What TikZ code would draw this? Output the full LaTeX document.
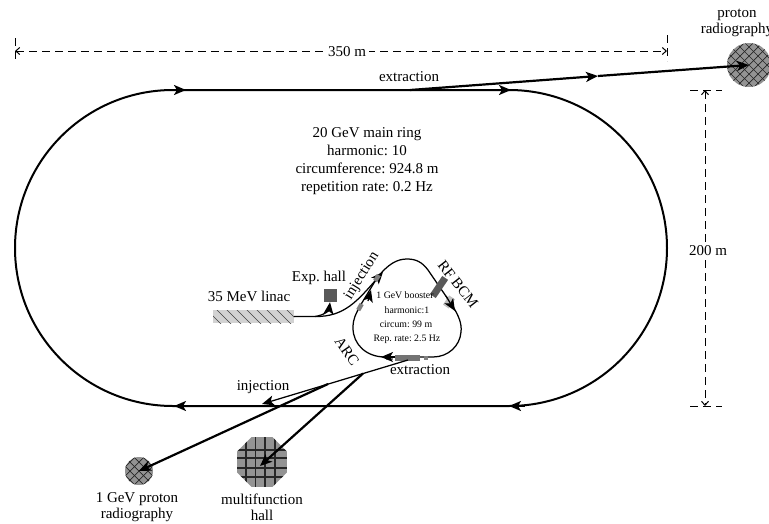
\documentclass[tikz,border=0pt]{standalone}
\usepackage{fontspec}
\setmainfont{Liberation Serif}
\usepackage{tikz}
\usetikzlibrary{positioning,arrows.meta,calc,shapes.geometric}
\frenchspacing
\begin{document}
\begin{tikzpicture}[x=1pt,y=-1pt,>={Stealth[inset=3pt,length=12pt,width=10pt]}, font=\fontsize{15}{17}\selectfont,
  ringline/.style={draw,line width=2pt},
  beam/.style={draw,line width=1.25pt},
  thick beam/.style={draw,line width=2.2pt},
  dim/.style={draw,line width=1pt,dash pattern=on 8pt off 5pt},
  tiny/.style={font=\fontsize{9.8}{12}\selectfont},
  cell/.style={draw=none,fill=black!#1,inner sep=0pt,minimum height=4.5pt,minimum width=7pt},
  xhatch/.style={fill=gray!85,inner sep=0pt,path picture={
    \foreach \i in {-72,-63,...,72}{
      \draw[black!85,line width=.7pt] ([shift={(\i-40,-40)}]path picture bounding box.center)--([shift={(\i+40,40)}]path picture bounding box.center);
      \draw[black!85,line width=.7pt] ([shift={(\i-40,40)}]path picture bounding box.center)--([shift={(\i+40,-40)}]path picture bounding box.center);}}}]
  \useasboundingbox (0,0) rectangle (769,523);
  % main ring
  \coordinate (tl) at (173,90); \coordinate (tr) at (509,90);
  \coordinate (bl) at (173,406); \coordinate (br) at (509,406);
  \draw[ringline] (tl) arc[start angle=90,end angle=270,radius=158pt] -- (br) arc[start angle=-90,end angle=90,radius=158pt] -- cycle;
  \foreach \a/\b in {170/186,495/511}{ \draw[ringline,->] (\a,90)--(\b,90); }
  \foreach \a/\b in {190/174,525/509}{ \draw[ringline,->] (\a,406)--(\b,406); }
  % dimensions
  \coordinate (w0) at (15,51); \coordinate (w1) at (667,51);
  \coordinate (h0) at (705,90); \coordinate (h1) at (705,406);
  \draw[dim] (15,38)--(15,63); \draw[dim] (667,35)--(667,61);
  \draw[dim] (690,90)--(722,90); \draw[dim] (690,406)--(722,406);
  \draw[dim,<->,>={Straight Barb[length=4pt,width=7pt]}] (w0)--(w1);
  \draw[dim,<->,>={Straight Barb[length=4pt,width=7pt]}] (h0)--(h1);
  \node[fill=white,inner sep=3pt] (wlab) at (347,52) {350 m};
  \node[fill=white,inner sep=3pt] (hlab) at (708,251) {200 m};
  % targets
  \node[xhatch,circle,minimum size=44pt] (pr) at (749,65) {};
  \node[xhatch,circle,minimum size=28pt] (gr) at (139,471) {};
  \node[regular polygon,regular polygon sides=8,minimum size=54pt,inner sep=0pt,fill=gray!85,path picture={
    \foreach \i in {-16,-6.5,3,13}{ \draw[black!85,line width=1.1pt] ([shift={(\i,-30)}]path picture bounding box.center)--([shift={(\i,30)}]path picture bounding box.center); }
    \foreach \i in {-12,-4,6,15}{ \draw[black!85,line width=1.1pt] ([shift={(-30,\i)}]path picture bounding box.center)--([shift={(30,\i)}]path picture bounding box.center); }}] (mh) at (262,462) {};
  \node[align=center] (prlab) at (737,22) {\strut proton\\[-1pt]\strut radiography};
  \node[align=center] (grlab) at (137,507) {1 GeV proton\\[-1pt]radiography};
  \node[align=center] (mhlab) at (262,507) {multifunction\\[-1pt]hall};
  % extraction to proton radiography
  \coordinate (ex0) at (410,90);
  \draw[thick beam,->] (ex0)--(598,76);
  \draw[thick beam,->] (598,76)--(pr.center);
  \node (exlab) at (409,77) {extraction};
  % linac and booster
  \node[draw=none,fill=gray!35,minimum width=81pt,minimum height=13pt,inner sep=0pt,path picture={
    \foreach \i in {-50,-40,...,50}{ \draw[black!75,line width=.6pt] ([shift={(\i-8,-8)}]path picture bounding box.center)--([shift={(\i+8,8)}]path picture bounding box.center); }}] (linac) at (253.5,316.5) {};
  \node (linaclab) at (249,296) {35 MeV linac};
  \node[fill=black!65,minimum size=13pt,inner sep=0pt] (hall) at (330,295.5) {};
  \node (halllab) at (319,278) {Exp. hall};
  \coordinate (fork) at (315,316.5);
  \coordinate (injb) at (383,272);
  \draw[beam,->] (linac.east) -- (fork) .. controls (345,317) and (358,300) .. (injb);
  \draw[beam,->] (fork) .. controls (325,315) and (329,310) .. (hall.south);
  \draw[beam] (377,278) .. controls (388,264) and (397,259) .. (407,259) .. controls (416,259) and (422,262) .. (428,270) -- (452,305) .. controls (459,316) and (462,324) .. (461,332) .. controls (460,346) and (448,357) .. (433,357) -- (385,357) .. controls (366,357) and (353,344) .. (353,328) .. controls (353,318) and (356,314) .. (360,306) -- cycle;
  \draw[beam,->] (368,301)--(371,290);
  \node[cell=65,rotate=56,minimum width=22pt,minimum height=7pt] (rf) at (439,287) {};
  \node[cell=25,rotate=56,minimum width=11pt,minimum height=7pt] (bcm) at (449,302) {};
  \draw[beam,->] (446,296)--(455,311);
  \node[cell=55,minimum width=25pt,minimum height=6pt] (kick) at (407,358) {};
  \node[cell=50,minimum width=3.5pt] (q1) at (426,358) {};
  \node[cell=50,minimum width=7pt] (q2) at (389,358) {};
  \draw[beam,->] (395,357)--(381,357);
  \node[cell=50,rotate=60] (q3) at (360,307) {};
  \node[cell=50,rotate=58] (q4) at (377,278) {};
  \node[tiny] (b1) at (405,295) {1 GeV booster};
  \node[tiny] (b2) at (407,310) {harmonic:1};
  \node[tiny] (b3) at (406,324) {circum: 99 m};
  \node[tiny] (b4) at (407,339) {Rep. rate: 2.5 Hz};
  \node[rotate=58] (inj1) at (362,276) {injection};
  \node[rotate=-52] (rfbcm) at (458,284) {RF BCM};
  \node[rotate=-55] (arc) at (347,351) {ARC};
  \node (exb) at (420,370) {extraction};
  % booster to main ring and halls
  \coordinate (ext) at (408,360);
  \coordinate (b1f) at (363,373.5); \coordinate (b2f) at (328,384);
  \draw[beam,->] (ext)--(262,404);
  \draw[thick beam,->] (b2f)--(gr.center);
  \draw[thick beam,->] (b1f)--(260,466);
  \node (injlab) at (263,387) {injection};
  % main ring data
  \node[align=center] (ringlab) at (367,161) {20 GeV main ring\\[1pt]harmonic: 10\\[1pt]circumference: 924.8 m\\[1pt]repetition rate: 0.2 Hz};
\end{tikzpicture}
\end{document}
